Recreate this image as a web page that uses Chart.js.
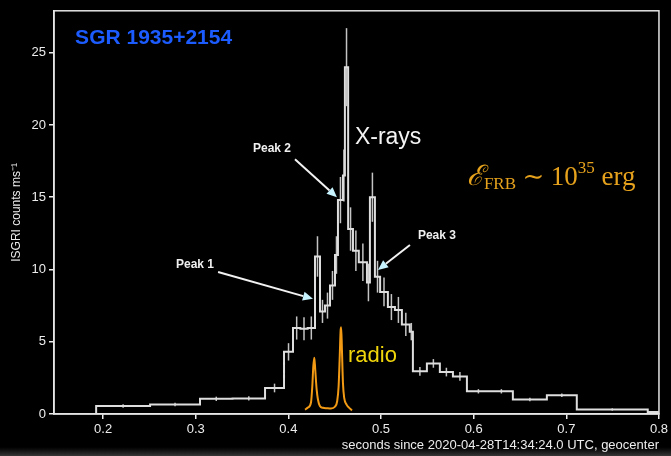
<!DOCTYPE html>
<html>
<head>
<meta charset="utf-8">
<script src="https://cdn.jsdelivr.net/npm/chart.js@4"></script>
<style>
  html, body { margin: 0; padding: 0; background: #000; }
  canvas { display: block; }
</style>
</head>
<body>
<canvas id="c" width="671" height="456"></canvas>
<script>
// ISGRI light curve (variable-width bins): left edges + final right edge
const binEdges = [0.147, 0.1925, 0.2507, 0.3046, 0.3397, 0.3748, 0.3953, 0.405, 0.4129, 0.4208,
  0.4287, 0.4341, 0.4395, 0.4449, 0.4503, 0.4535, 0.4589, 0.4610, 0.4645, 0.4697,
  0.4760, 0.4848, 0.4880, 0.4934, 0.4990, 0.5074, 0.5150, 0.5225, 0.5310, 0.5344,
  0.5495, 0.5635, 0.5776, 0.5927, 0.6175, 0.6423, 0.6790, 0.7113, 0.7879, 0.8];
const counts = [0, 0.55, 0.65, 1.05, 1.08, 1.8, 4.3, 5.95, 5.9, 5.95,
  10.9, 7.1, 7.5, 8.9, 11.0, 14.8, 16.5, 24.0, 12.8, 11.3,
  10.5, 9.1, 15.0, 9.5, 8.45, 7.4, 7.2, 6.2, 5.7, 2.95,
  3.5, 2.9, 2.6, 1.57, 1.57, 1.0, 1.3, 0.31, 0.13];
const countErr = [0, 0.12, 0.12, 0.15, 0.15, 0.3, 0.6, 0.8, 0.8, 0.8,
  1.4, 0.8, 0.9, 1.0, 1.3, 1.6, 1.8, 2.7, 1.5, 1.4,
  1.3, 1.3, 1.7, 1.1, 1.0, 0.9, 0.9, 0.8, 0.6, 0.3,
  0.3, 0.3, 0.3, 0.15, 0.15, 0.12, 0.12, 0.08, 0.05];

// radio (CHIME) profile, same y units
const radioTime = [0.4179, 0.4211, 0.4244, 0.4258, 0.4269, 0.4280, 0.4290, 0.4305, 0.4319, 0.4340,
  0.4373, 0.4416, 0.4460, 0.4502, 0.4527, 0.4542, 0.4553, 0.4564, 0.4570, 0.4578,
  0.4589, 0.4603, 0.4628, 0.4657, 0.4686];
const radioFlux = [0.3, 0.45, 0.8, 1.9, 3.3, 3.9, 3.05, 1.7, 1.0, 0.55,
  0.43, 0.4, 0.38, 0.5, 0.9, 1.9, 3.75, 5.8, 6.0, 4.45,
  2.15, 1.1, 0.65, 0.42, 0.25];

const xTicks = [0.2, 0.3, 0.4, 0.5, 0.6, 0.7, 0.8];
const yTicks = [0, 5, 10, 15, 20, 25];

// peak annotations: label position, arrow start, arrow tip (data units)
const peakLabels = ["Peak 1", "Peak 2", "Peak 3"];
const peakLabelAt = [[0.2992, 10.31], [0.3823, 18.38], [0.5603, 12.31]];
const peakFrom = [[0.3241, 9.83], [0.4071, 17.62], [0.5312, 11.69]];
const peakTip = [[0.4265, 7.97], [0.4524, 15.0], [0.4967, 9.97]];

const histPoints = counts.map((v, i) => ({ x: binEdges[i], y: v }));
histPoints.push({ x: binEdges[binEdges.length - 1], y: counts[counts.length - 1] });
const radioPoints = radioTime.map((t, i) => ({ x: t, y: radioFlux[i] }));

const fg = "#ececec";

const bgPlugin = {
  id: "bg",
  beforeDraw(chart) {
    const ctx = chart.ctx;
    ctx.save();
    ctx.fillStyle = "#000";
    ctx.fillRect(0, 0, chart.width, chart.height);
    const g = ctx.createLinearGradient(0, chart.height - 9, 0, chart.height);
    g.addColorStop(0, "rgba(40,40,40,0)");
    g.addColorStop(1, "rgba(55,55,55,1)");
    ctx.fillStyle = g;
    ctx.fillRect(0, chart.height - 9, chart.width, 9);
    ctx.restore();
  }
};

const framePlugin = {
  id: "frame",
  afterDraw(chart) {
    const { ctx, chartArea: a } = chart;
    ctx.save();
    ctx.strokeStyle = "#e4e4e4";
    ctx.lineWidth = 1.5;
    ctx.strokeRect(a.left, a.top, a.right - a.left, a.bottom - a.top);
    ctx.restore();
  }
};

const errorBarPlugin = {
  id: "errbars",
  beforeDatasetsDraw(chart) {
    const { ctx, scales: { x, y } } = chart;
    ctx.save();
    ctx.strokeStyle = "#c4c4c4";
    ctx.lineWidth = 1.5;
    counts.forEach((v, i) => {
      if (!countErr[i]) return;
      const cx = x.getPixelForValue((binEdges[i] + binEdges[i + 1]) / 2);
      ctx.beginPath();
      ctx.moveTo(cx, y.getPixelForValue(v - countErr[i]));
      ctx.lineTo(cx, y.getPixelForValue(v + countErr[i]));
      ctx.stroke();
    });
    ctx.restore();
  }
};

function arrow(ctx, x1, y1, x2, y2) {
  const ang = Math.atan2(y2 - y1, x2 - x1);
  const hl = 10, hw = 4.5;
  const bx = x2 - hl * Math.cos(ang), by = y2 - hl * Math.sin(ang);
  ctx.strokeStyle = "#f2f2f2";
  ctx.lineWidth = 2;
  ctx.beginPath();
  ctx.moveTo(x1, y1);
  ctx.lineTo(bx, by);
  ctx.stroke();
  ctx.fillStyle = "#c6f3ff";
  ctx.beginPath();
  ctx.moveTo(x2, y2);
  ctx.lineTo(bx + hw * Math.sin(ang), by - hw * Math.cos(ang));
  ctx.lineTo(bx - hw * Math.sin(ang), by + hw * Math.cos(ang));
  ctx.closePath();
  ctx.fill();
}

const notesPlugin = {
  id: "notes",
  afterDatasetsDraw(chart) {
    const { ctx, scales: { x, y } } = chart;
    const px = t => x.getPixelForValue(t);
    const py = v => y.getPixelForValue(v);
    ctx.save();
    ctx.textBaseline = "middle";

    // source name
    ctx.fillStyle = "#1c5cff";
    ctx.font = "bold 21px 'Liberation Sans', Arial, sans-serif";
    ctx.textAlign = "left";
    ctx.fillText("SGR 1935+2154", px(0.1698), py(26.03));

    // band labels
    ctx.fillStyle = "#f4f4f4";
    ctx.font = "23px 'Liberation Sans', Arial, sans-serif";
    ctx.fillText("X-rays", px(0.4718), py(19.14));
    ctx.fillStyle = "#f2d60c";
    ctx.font = "22px 'Liberation Sans', Arial, sans-serif";
    ctx.fillText("radio", px(0.4643), py(4.03));

    // peaks
    ctx.font = "bold 12px 'Liberation Sans', Arial, sans-serif";
    ctx.textAlign = "center";
    peakLabels.forEach((lab, i) => {
      ctx.fillStyle = "#f0f0f0";
      ctx.fillText(lab, px(peakLabelAt[i][0]), py(peakLabelAt[i][1]));
      arrow(ctx, px(peakFrom[i][0]), py(peakFrom[i][1]), px(peakTip[i][0]), py(peakTip[i][1]));
    });

    // energy
    ctx.fillStyle = "#e6a21c";
    ctx.textAlign = "left";
    ctx.textBaseline = "alphabetic";
    let cx = px(0.5927);
    const base = py(15.83);
    const serif = "'Liberation Serif', 'DejaVu Serif', serif";
    const parts = [
      ["ℰ", "italic 28px " + serif, 0],
      ["FRB", "17px " + serif, 4],
      [" ∼ ", "26px " + serif, 0],
      ["10", "27px " + serif, 0],
      ["35", "17px " + serif, -12],
      [" erg", "27px " + serif, 0]
    ];
    parts.forEach(([s, f, dy]) => {
      ctx.font = f;
      ctx.fillText(s, cx, base + dy);
      cx += ctx.measureText(s).width;
    });
    ctx.restore();
  }
};

const tickFont = { family: "'Liberation Sans', Arial, sans-serif", size: 13 };

new Chart(document.getElementById("c"), {
  type: "line",
  data: {
    datasets: [
      {
        label: "X-rays",
        data: histPoints,
        stepped: "before",
        borderColor: "#dedede",
        borderWidth: 2,
        pointRadius: 0,
        fill: false
      },
      {
        label: "radio",
        data: radioPoints,
        borderColor: "#f29a14",
        borderWidth: 2,
        pointRadius: 0,
        cubicInterpolationMode: "monotone",
        fill: false
      }
    ]
  },
  options: {
    responsive: false,
    animation: false,
    layout: { padding: { left: 0, right: 11, top: 10, bottom: 0 } },
    plugins: { legend: { display: false }, tooltip: { enabled: false } },
    scales: {
      x: {
        type: "linear",
        min: 0.147,
        max: 0.8,
        afterBuildTicks: s => { s.ticks = xTicks.map(v => ({ value: v })); },
        afterFit: s => { s.height = 42; },
        ticks: { color: fg, font: tickFont, padding: 3, maxRotation: 0, callback: v => v.toFixed(1) },
        grid: { drawOnChartArea: false, drawTicks: true, tickLength: 5, color: fg, lineWidth: 1.5 },
        border: { display: true, color: fg, width: 1.5 },
        title: {
          display: true,
          text: "seconds since 2020-04-28T14:34:24.0 UTC, geocenter",
          align: "end",
          color: fg,
          font: tickFont,
          padding: { top: 0, bottom: 3 }
        }
      },
      y: {
        min: 0,
        max: 27.9,
        afterBuildTicks: s => { s.ticks = yTicks.map(v => ({ value: v })); },
        afterFit: s => { s.width = 54; },
        ticks: { color: fg, font: tickFont, padding: 3 },
        grid: { drawOnChartArea: false, drawTicks: true, tickLength: 5, color: fg, lineWidth: 1.5 },
        border: { display: true, color: fg, width: 1.5 },
        title: {
          display: true,
          text: "ISGRI counts ms⁻¹",
          color: fg,
          font: { family: "'Liberation Sans', Arial, sans-serif", size: 12 },
          padding: { top: 9, bottom: 0 }
        }
      }
    }
  },
  plugins: [bgPlugin, errorBarPlugin, notesPlugin, framePlugin]
});
</script>
</body>
</html>
